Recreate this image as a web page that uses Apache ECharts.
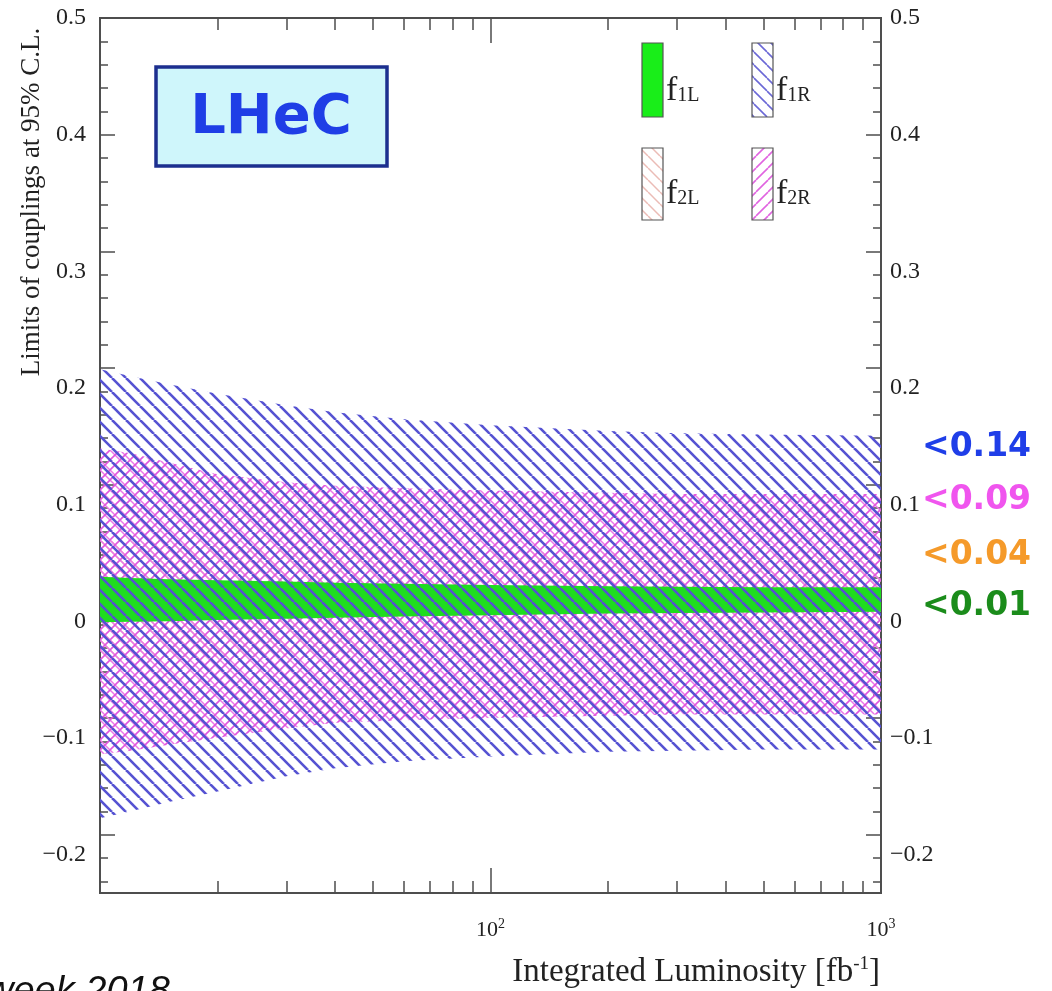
<!DOCTYPE html>
<html>
<head>
<meta charset="utf-8">
<script src="https://cdn.jsdelivr.net/npm/echarts@6/dist/echarts.min.js"></script>
<style>
  html, body { margin: 0; padding: 0; background: #ffffff; }
  #chart { width: 1052px; height: 991px; }
</style>
</head>
<body>
<div id="chart"></div>
<script>
// Integrated luminosity sample points [fb^-1]
const lumi = [10, 12, 15, 20, 30, 40, 60, 100, 200, 300, 500, 1000];

// 95% C.L. limits on the anomalous Wtb couplings (upper / lower edge)
const f1L_hi = [0.021, 0.020, 0.019, 0.018, 0.017, 0.016, 0.015, 0.014, 0.013, 0.0125, 0.012, 0.012];
const f1L_lo = [-0.018, -0.0175, -0.017, -0.016, -0.015, -0.014, -0.013, -0.012, -0.0105, -0.010, -0.0095, -0.009];
const f1R_hi = [0.199, 0.193, 0.186, 0.178, 0.168, 0.162, 0.156, 0.151, 0.146, 0.144, 0.143, 0.142];
const f1R_lo = [-0.186, -0.180, -0.172, -0.163, -0.150, -0.143, -0.137, -0.133, -0.129, -0.128, -0.127, -0.127];
const f2L_hi = [0.052, 0.051, 0.050, 0.048, 0.046, 0.045, 0.044, 0.043, 0.042, 0.041, 0.041, 0.040];
const f2L_lo = [-0.052, -0.051, -0.050, -0.048, -0.046, -0.045, -0.044, -0.043, -0.042, -0.041, -0.041, -0.040];
const f2R_hi = [0.131, 0.127, 0.119, 0.109, 0.102, 0.099, 0.097, 0.095, 0.093, 0.092, 0.092, 0.092];
const f2R_lo = [-0.131, -0.128, -0.123, -0.117, -0.109, -0.104, -0.102, -0.100, -0.098, -0.097, -0.097, -0.097];

// Limits quoted at 1000 fb^-1
const limitTexts = ['<0.14', '<0.09', '<0.04', '<0.01'];

// Axis ticks and labels
const yMajorTicks = [-0.2, -0.1, 0, 0.1, 0.2, 0.3, 0.4, 0.5];
const yUpperLabels = [0.4, 0.5];
const yLowerLabels = [-0.2, -0.1, 0, 0.1, 0.2, 0.3];
const xMajorTicks = [100];
const xMinorTicks = [20, 30, 40, 50, 60, 70, 80, 90, 200, 300, 400, 500, 600, 700, 800, 900];
const xLabels = [100, 1000];

// minor ticks every 0.02 between the major ones
const yMinorTicks = [];
for (let k = -12; k <= 25; k++) {
  if (k % 5 !== 0) yMinorTicks.push(+(k * 0.02).toFixed(2));
}

const SERIF = '"Liberation Serif", "Times New Roman", serif';
const SANS = '"DejaVu Sans", Verdana, sans-serif';
const AXIS_COLOR = '#4d4d4d';

// hatch fill tiles
function hatch(strokes, size, bg) {
  const c = document.createElement('canvas');
  c.width = size; c.height = size;
  const g = c.getContext('2d');
  if (bg) { g.fillStyle = bg; g.fillRect(0, 0, size, size); }
  strokes.forEach(s => {
    g.strokeStyle = s.color;
    g.lineWidth = s.width;
    for (let k = -1; k <= 1; k++) {
      g.beginPath();
      if (s.dir === 'down') { g.moveTo(k * size, 0); g.lineTo(k * size + size, size); }
      else { g.moveTo(k * size, size); g.lineTo(k * size + size, 0); }
      g.stroke();
    }
  });
  return { image: c, repeat: 'repeat' };
}

const fillF1R = hatch([{ dir: 'down', color: '#5552d2', width: 2.6 }], 14);
const fillF2R = hatch([
  { dir: 'down', color: '#ec78e8', width: 1.5 },
  { dir: 'up', color: '#e055de', width: 1.6 }
], 10);
const fillF2L = hatch([{ dir: 'down', color: '#e8b4ae', width: 1.5 }], 10);
const fillF1L = '#1fdc1f';

const legendF1R = hatch([{ dir: 'down', color: '#6b68d6', width: 1.6 }], 13);
const legendF2L = hatch([{ dir: 'down', color: '#ebbcb6', width: 1.5 }], 12);
const legendF2R = hatch([{ dir: 'up', color: '#e064e0', width: 1.6 }], 12);

function band(name, hi, lo, fill, z) {
  const rows = lumi.map((l, i) => [l, lo[i], hi[i]]);
  return {
    type: 'custom',
    name: name,
    coordinateSystem: 'cartesian2d',
    xAxisIndex: 0,
    yAxisIndex: 0,
    silent: true,
    z: z,
    data: rows,
    encode: { x: 0, y: [1, 2] },
    renderItem: function (params, api) {
      if (params.dataIndex !== 0) return null;
      const top = rows.map(r => api.coord([r[0], r[2]]));
      const bottom = rows.map(r => api.coord([r[0], r[1]])).reverse();
      return {
        type: 'polygon',
        shape: { points: top.concat(bottom) },
        style: { fill: fill, stroke: null }
      };
    }
  };
}

function xAxisDef(position, ticks, len, labels) {
  return {
    type: 'log', logBase: 10, min: 10, max: 1000, position: position,
    axisLine: { show: true, onZero: false, lineStyle: { color: AXIS_COLOR, width: 1.8 } },
    splitLine: { show: false },
    minorTick: { show: false },
    axisTick: { show: true, inside: true, length: len, customValues: ticks,
                lineStyle: { color: AXIS_COLOR, width: 1.5 } },
    axisLabel: labels ? {
      show: true, customValues: xLabels, margin: 24,
      formatter: v => '{b|10}{s|' + Math.round(Math.log10(v)) + '}',
      rich: {
        b: { fontFamily: SERIF, fontSize: 22, color: '#222' },
        s: { fontFamily: SERIF, fontSize: 14, color: '#222', padding: [0, 0, 12, 0] }
      }
    } : { show: false }
  };
}

// the lower group of value labels sits a little below its tick
function yAxisDef(position, ticks, len, labels, shifted) {
  return {
    type: 'value', min: -0.25, max: 0.5, position: position,
    axisLine: { show: true, onZero: false, lineStyle: { color: AXIS_COLOR, width: 1.8 } },
    splitLine: { show: false },
    axisTick: { show: true, inside: true, length: len, customValues: ticks,
                lineStyle: { color: AXIS_COLOR, width: 1.5 } },
    axisLabel: labels ? {
      show: true, customValues: labels, margin: position === 'left' ? 14 : 9,
      fontFamily: SERIF, fontSize: 24, color: '#222',
      lineHeight: shifted ? 40 : 26,
      formatter: v => (shifted ? '\n' : '') + (v < 0 ? '\u2212' : '') + String(Math.abs(v))
    } : { show: false }
  };
}

const chart = echarts.init(document.getElementById('chart'), null, { renderer: 'canvas' });

chart.setOption({
  animation: false,
  backgroundColor: '#ffffff',
  grid: { left: 100, right: 171, top: 18, bottom: 98, containLabel: false, outerBoundsMode: 'none' },
  xAxis: [
    xAxisDef('bottom', xMinorTicks, 12, true),
    xAxisDef('bottom', xMajorTicks, 25, false),
    xAxisDef('top', xMinorTicks, 12, false),
    xAxisDef('top', xMajorTicks, 25, false)
  ],
  yAxis: [
    yAxisDef('left', yMajorTicks, 15, yUpperLabels, false),
    yAxisDef('left', yMinorTicks, 8, yLowerLabels, true),
    yAxisDef('right', yMajorTicks, 15, yUpperLabels, false),
    yAxisDef('right', yMinorTicks, 8, yLowerLabels, true)
  ],
  series: [
    band('f2L', f2L_hi, f2L_lo, fillF2L, 1),
    band('f2R', f2R_hi, f2R_lo, fillF2R, 2),
    band('f1L', f1L_hi, f1L_lo, fillF1L, 3),
    band('f1R', f1R_hi, f1R_lo, fillF1R, 4)
  ],
  graphic: [
    // experiment tag
    { type: 'rect', z: 10, shape: { x: 156, y: 67, width: 231, height: 99 },
      style: { fill: '#cff6fb', stroke: '#1c2f8f', lineWidth: 3.5 } },
    { type: 'text', z: 11, x: 271, y: 118,
      style: { text: 'LHeC', font: 'bold 56px ' + SANS, fill: '#1f3ee6', align: 'center', verticalAlign: 'middle' } },

    // legend
    { type: 'rect', z: 10, shape: { x: 642, y: 43, width: 21, height: 74 },
      style: { fill: '#19ee19', stroke: '#555', lineWidth: 1.2 } },
    { type: 'rect', z: 10, shape: { x: 752, y: 43, width: 21, height: 74 },
      style: { fill: legendF1R, stroke: '#555', lineWidth: 1.2 } },
    { type: 'rect', z: 10, shape: { x: 642, y: 148, width: 21, height: 72 },
      style: { fill: legendF2L, stroke: '#555', lineWidth: 1.2 } },
    { type: 'rect', z: 10, shape: { x: 752, y: 148, width: 21, height: 72 },
      style: { fill: legendF2R, stroke: '#555', lineWidth: 1.2 } },
    ...[['1L', 666, 91], ['1R', 776, 91], ['2L', 666, 194], ['2R', 776, 194]].map(t => ({
      type: 'text', z: 11, x: t[1], y: t[2],
      style: {
        text: '{f|f}{s|' + t[0] + '}', align: 'left', verticalAlign: 'middle',
        rich: {
          f: { fontFamily: SERIF, fontSize: 34, fill: '#222', color: '#222' },
          s: { fontFamily: SERIF, fontSize: 20, fill: '#222', color: '#222', padding: [9, 0, 0, 0] }
        }
      }
    })),

    // limits at the highest luminosity
    ...limitTexts.map((t, i) => ({
      type: 'text', z: 11, x: 922, y: [447, 500, 555, 606][i],
      style: { text: t, font: 'bold 33px ' + SANS,
               fill: ['#1f3ee8', '#f055ee', '#f59a2a', '#1b8c1b'][i],
               align: 'left', verticalAlign: 'middle' }
    })),

    // axis titles
    { type: 'text', z: 11, x: 32, y: 202, rotation: Math.PI / 2,
      style: { text: 'Limits of couplings at 95% C.L.', font: '27px ' + SERIF, fill: '#222',
               align: 'center', verticalAlign: 'middle' } },
    { type: 'text', z: 11, x: 880, y: 972,
      style: { text: 'Integrated Luminosity [fb{s|-1}]', font: '33px ' + SERIF, fill: '#222',
               align: 'right', verticalAlign: 'middle',
               rich: { s: { fontFamily: SERIF, fontSize: 19, fill: '#222', padding: [0, 0, 15, 0] } } } },

    // footer
    { type: 'text', z: 11, x: -14, y: 992,
      style: { text: 'week 2018', font: 'italic 38px "Liberation Sans", Arial, sans-serif', fill: '#111',
               align: 'left', verticalAlign: 'middle' } }
  ]
});
</script>
</body>
</html>
